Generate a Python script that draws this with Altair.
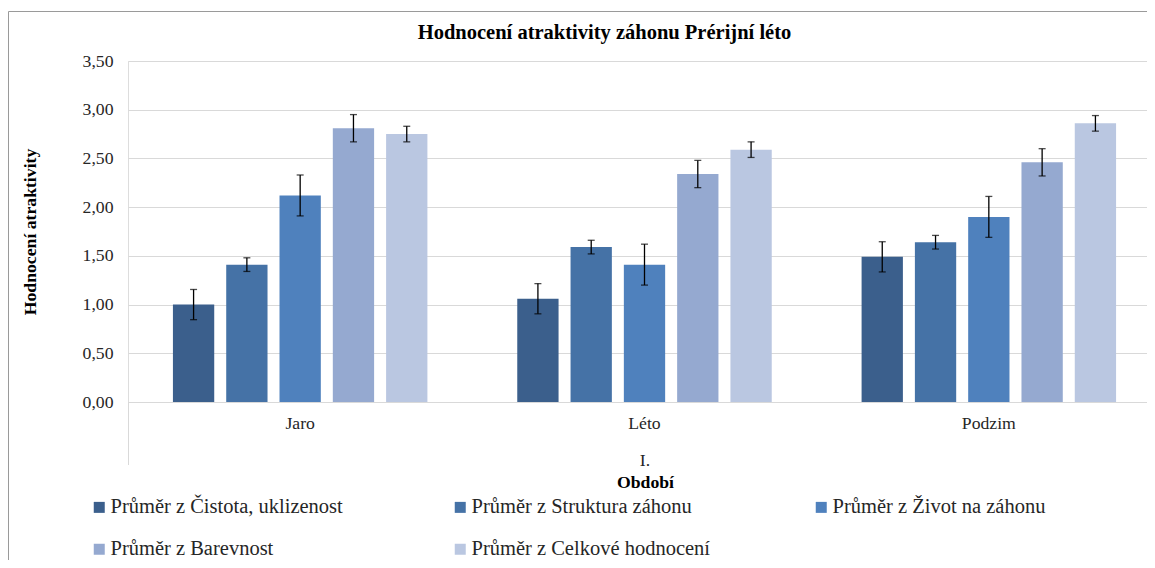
import altair as alt
import pandas as pd

# ---- data ----
periods = ["Jaro", "Léto", "Podzim"]
series = [
    "Průměr z Čistota, uklizenost",
    "Průměr z Struktura záhonu",
    "Průměr z Život na záhonu",
    "Průměr z Barevnost",
    "Průměr z Celkové hodnocení",
]
colors = ["#3b5f8c", "#4572a6", "#4f81bd", "#95a9d0", "#bac7e1"]

cistota = [1.00, 1.06, 1.49]
struktura = [1.41, 1.59, 1.64]
zivot = [2.12, 1.41, 1.90]
barevnost = [2.81, 2.34, 2.46]
celkove = [2.75, 2.59, 2.86]

cistota_err = [0.155, 0.155, 0.155]
struktura_err = [0.07, 0.07, 0.07]
zivot_err = [0.21, 0.21, 0.21]
barevnost_err = [0.14, 0.14, 0.14]
celkove_err = [0.08, 0.08, 0.08]

y_ticks = [0, 0.5, 1.0, 1.5, 2.0, 2.5, 3.0, 3.5]

means = [cistota, struktura, zivot, barevnost, celkove]
errors = [cistota_err, struktura_err, zivot_err, barevnost_err, celkove_err]

rows = []
for s, vals, errs in zip(series, means, errors):
    for p, v, e in zip(periods, vals, errs):
        rows.append({"Období": p, "Řada": s, "Hodnota": v, "lo": v - e, "hi": v + e})
df = pd.DataFrame(rows)

FONT = "Liberation Serif"
W, H = 1019, 341
X_TITLE = "Období"
Y_TITLE = "Hodnocení atraktivity"

x_enc = alt.X(
    "Období:N",
    sort=periods,
    scale=alt.Scale(paddingInner=0, paddingOuter=0, rangeMax=1033),
    axis=alt.Axis(labelAngle=0),
    title=X_TITLE,
)
xo_enc = alt.XOffset(
    "Řada:N", sort=series, scale=alt.Scale(paddingInner=0.225, paddingOuter=0.843)
)

y_enc = alt.Y(
    "Hodnota:Q",
    scale=alt.Scale(domain=[0, 3.5]),
    axis=alt.Axis(
        values=y_ticks,
        labelExpr="replace(format(datum.value, '.2f'), '.', ',')",
    ),
    title=Y_TITLE,
)

base = alt.Chart(df)

bars = base.mark_bar().encode(
    x=x_enc,
    xOffset=xo_enc,
    y=y_enc,
    color=alt.Color(
        "Řada:N",
        sort=series,
        scale=alt.Scale(domain=series, range=colors),
        legend=alt.Legend(
            title=None,
            orient="none",
            legendX=-39,
            legendY=436,
            direction="horizontal",
            columns=3,
            gridAlign="all",
            columnPadding=100,
            rowPadding=21,
            symbolType="square",
            symbolSize=121,
            symbolStrokeWidth=0,
            labelFont=FONT,
            labelFontSize=20.5,
            labelColor="#262626",
            labelOffset=1,
            labelLimit=400,
            padding=0,
        ),
    ),
)

x_other = alt.X("Období:N", sort=periods, title=X_TITLE)

err_rules = base.mark_rule(color="#000000", strokeWidth=1.3).encode(
    x=x_other, xOffset=xo_enc, y=alt.Y("lo:Q", title=Y_TITLE), y2="hi:Q"
)
cap_lo = base.mark_tick(color="#000000", size=7, thickness=1.3).encode(
    x=x_other, xOffset=xo_enc, y=alt.Y("lo:Q", title=Y_TITLE)
)
cap_hi = base.mark_tick(color="#000000", size=7, thickness=1.3).encode(
    x=x_other, xOffset=xo_enc, y=alt.Y("hi:Q", title=Y_TITLE)
)

deco = pd.DataFrame({"t": ["I."], "title": ["Hodnocení atraktivity záhonu Prérijní léto"]})
group_label = alt.Chart(deco).mark_text(
    font=FONT, fontSize=17.7, color="#262626", align="center", baseline="alphabetic"
).encode(x=alt.value(517), y=alt.value(405), text="t:N")

chart_title = alt.Chart(deco).mark_text(
    font=FONT, fontSize=20.5, fontWeight="bold", color="#000000",
    align="center", baseline="alphabetic"
).encode(x=alt.value(476.5), y=alt.value(-22), text="title:N")

separator = alt.Chart(deco).mark_rule(color="#d9d9d9", strokeWidth=1).encode(
    x=alt.value(0.5), y=alt.value(341), y2=alt.value(404)
)

border = alt.Chart(deco).mark_rect(
    fill="transparent", stroke="#9a9a9a", strokeWidth=1
).encode(
    x=alt.value(-119.5), x2=alt.value(1100), y=alt.value(-49.5), y2=alt.value(600)
)

chart = (
    alt.layer(bars, err_rules, cap_lo, cap_hi, border, separator, group_label, chart_title)
    .properties(
        width=W,
        height=H,
        autosize=alt.AutoSizeParams(type="none"),
        padding={"left": 120, "top": 53, "right": 0, "bottom": 158},
    )
    .configure_view(stroke=None)
    .configure(background="white")
    .configure_axisX(
        labelFont=FONT,
        labelFontSize=17.7,
        labelColor="#262626",
        labelPadding=12,
        ticks=False,
        grid=False,
        domainColor="#d9d9d9",
        domainWidth=1,
        titleFont=FONT,
        titleFontSize=17.7,
        titleFontWeight="bold",
        titleColor="#000000",
        titleX=517,
        titleY=85,
        titleBaseline="alphabetic",
        titleAlign="center",
    )
    .configure_axisY(
        labelFont=FONT,
        labelFontSize=17.7,
        labelColor="#262626",
        labelPadding=15,
        ticks=False,
        domain=False,
        grid=True,
        gridColor="#d9d9d9",
        gridWidth=1,
        titleFont=FONT,
        titleFontSize=17.7,
        titleFontWeight="bold",
        titleColor="#000000",
        titleX=-98,
        titleY=170.5,
        titleAngle=270,
        titleAlign="center",
        titleBaseline="middle",
    )
)

chart.save("out.html", embed_options={"renderer": "svg", "actions": False})
